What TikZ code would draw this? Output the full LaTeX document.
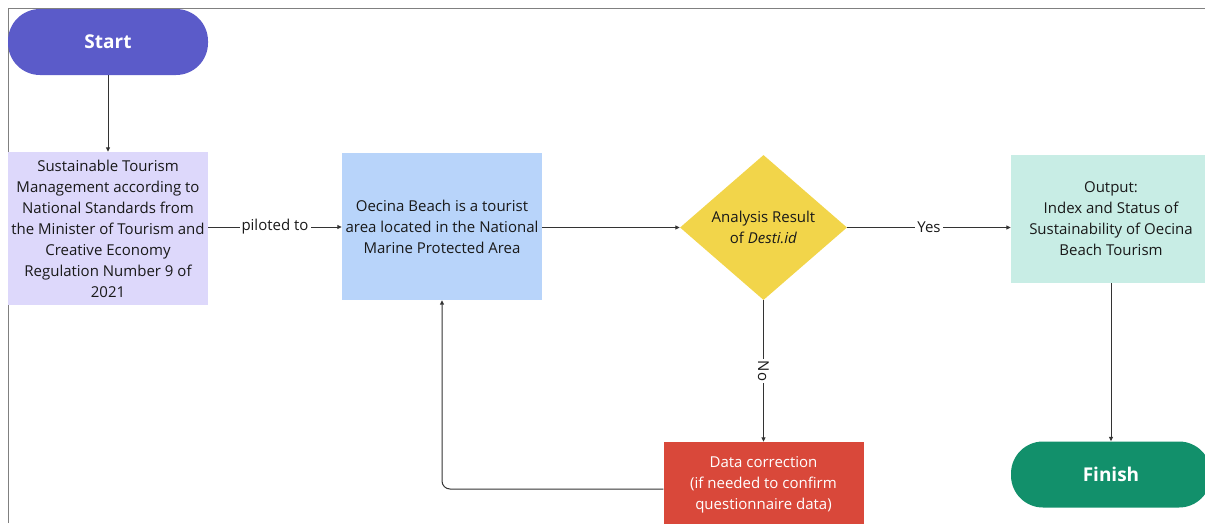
\documentclass[tikz,border=0pt]{standalone}
\usepackage{fontspec}
\setmainfont{Open Sans}
\usetikzlibrary{shapes.geometric,arrows.meta}
\definecolor{startc}{HTML}{5B5BC9}
\definecolor{boxa}{HTML}{DDD8FB}
\definecolor{boxb}{HTML}{B8D4FA}
\definecolor{diac}{HTML}{F2D54A}
\definecolor{boxc}{HTML}{C8EDE5}
\definecolor{finc}{HTML}{12906B}
\definecolor{corc}{HTML}{D9483A}
\definecolor{linec}{HTML}{333333}
\begin{document}
\begin{tikzpicture}[x=1pt,y=-1pt,
  every node/.style={font=\fontsize{15}{21}\selectfont, text=black!90},
  pill/.style={rectangle, rounded corners=32pt, minimum width=200pt, minimum height=66pt, inner sep=0pt, text=white, font=\fontsize{19}{23}\selectfont\bfseries},
  procbox/.style={rectangle, minimum width=200pt, inner sep=0pt, align=center},
  dec/.style={diamond, fill=diac, minimum width=167pt, minimum height=145pt, inner sep=0pt, align=center},
  arr/.style={draw=linec, line width=1pt, -{Triangle[length=4.5pt,width=4pt]}},
  lbl/.style={fill=white, inner sep=2pt}
]
\useasboundingbox (0,0) rectangle (1205,523);
\clip (0,0) rectangle (1205,523);
\draw[gray, line width=1pt] (8,523) -- (8,8) -- (1205,8);

\node[pill, fill=startc] (start) at (108,42) {Start};
\node[procbox, fill=boxa, minimum height=153pt] (box1) at (108,228.5)
  {Sustainable Tourism\\Management according to\\National Standards from\\the Minister of Tourism and\\Creative Economy\\Regulation Number 9 of\\2021};
\node[procbox, fill=boxb, minimum height=147pt] (box2) at (442,226.5)
  {Oecina Beach is a tourist\\area located in the National\\Marine Protected Area};
\node[dec] (dia) at (763.5,227.5) {Analysis Result\\of \textit{Desti.id}};
\node[procbox, fill=boxc, minimum height=128pt] (box3) at (1111,219)
  {Output:\\Index and Status of\\Sustainability of Oecina\\Beach Tourism};
\node[pill, fill=finc] (finish) at (1111,474.5) {Finish};
\node[procbox, fill=corc, minimum height=86pt, text=white] (box4) at (763.5,485)
  {Data correction\\(if needed to confirm\\questionnaire data)};

\draw[arr] (start) -- (box1);
\draw[arr] (box1.east |- 0,227) -- node[lbl]{piloted to} (box2.west |- 0,227);
\draw[arr] (box2.east |- dia) -- (dia.west);
\draw[arr] (dia.east) -- node[lbl]{Yes} (dia.east -| box3.west);
\draw[arr] (dia.south) -- node[lbl, rotate=-90]{No} (box4.north);
\draw[arr, rounded corners=8pt] (box4.west |- 0,489) -| (box2.south);
\draw[arr] (box3.south) -- (finish.north);
\end{tikzpicture}
\end{document}
